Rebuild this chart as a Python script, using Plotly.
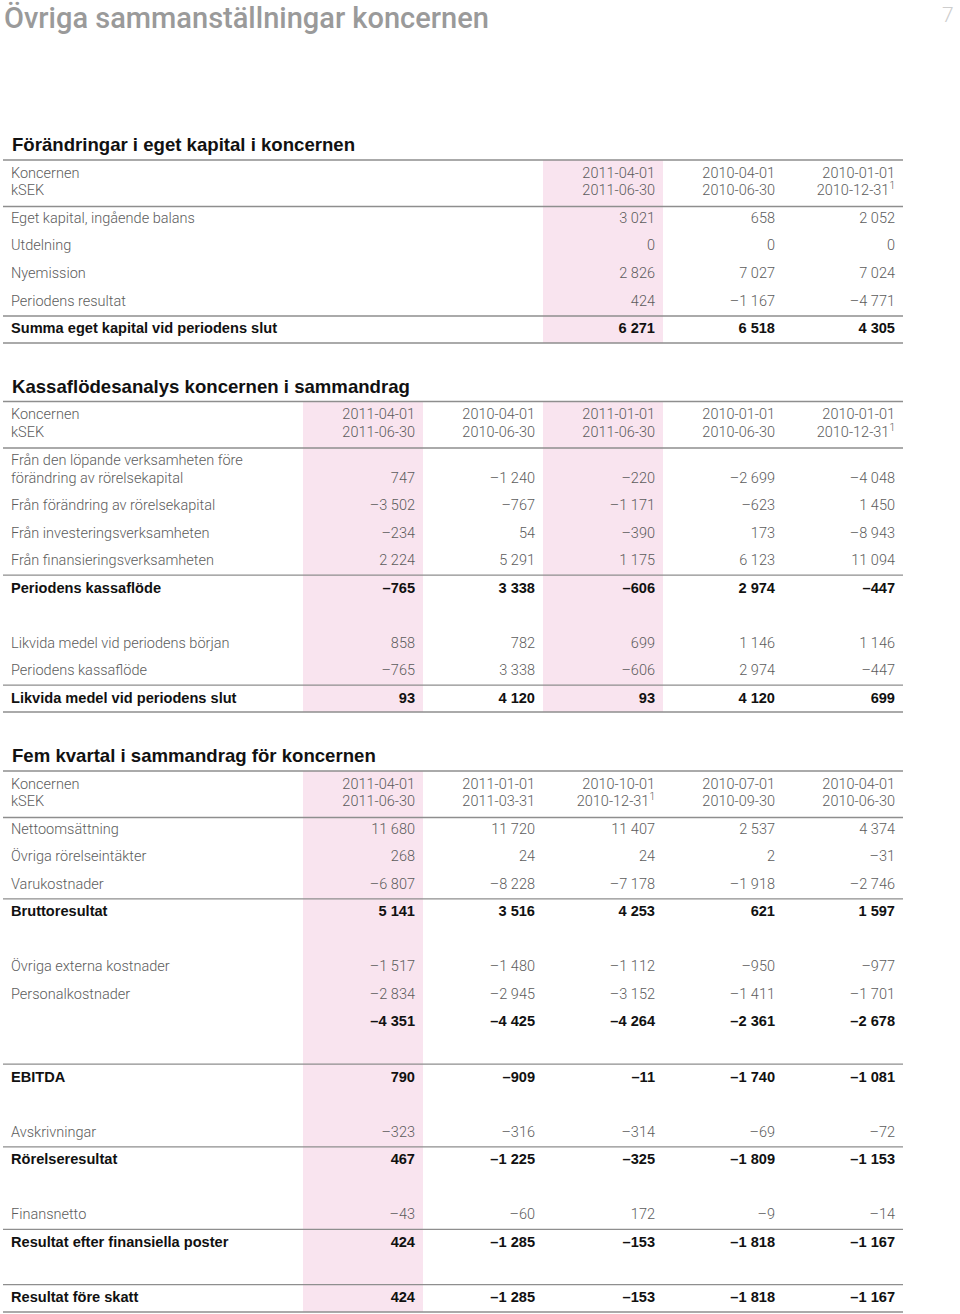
import plotly.graph_objects as go

# ---------------------------------------------------------------- data
PAGE_TITLE = "Övriga sammanställningar koncernen"
PAGE_NO = "7"
HDR_LABEL = ["Koncernen", "kSEK"]

# Förändringar i eget kapital
EK_TITLE = "Förändringar i eget kapital i koncernen"
EK_PERIODS = [("2011-04-01", "2011-06-30"),
              ("2010-04-01", "2010-06-30"),
              ("2010-01-01", "2010-12-31<sup>1</sup>")]
EK_LABELS = ["Eget kapital, ingående balans", "Utdelning", "Nyemission",
             "Periodens resultat", "Summa eget kapital vid periodens slut"]
EK_VALUES = [[3021, 658, 2052],
             [0, 0, 0],
             [2826, 7027, 7024],
             [424, -1167, -4771],
             [6271, 6518, 4305]]
EK_BOLD = [False, False, False, False, True]

# Kassaflödesanalys
KF_TITLE = "Kassaflödesanalys koncernen i sammandrag"
KF_PERIODS = [("2011-04-01", "2011-06-30"),
              ("2010-04-01", "2010-06-30"),
              ("2011-01-01", "2011-06-30"),
              ("2010-01-01", "2010-06-30"),
              ("2010-01-01", "2010-12-31<sup>1</sup>")]
KF_LABELS = ["Från den löpande verksamheten före\nförändring av rörelsekapital",
             "Från förändring av rörelsekapital",
             "Från investeringsverksamheten",
             "Från finansieringsverksamheten",
             "Periodens kassaflöde",
             None,
             "Likvida medel vid periodens början",
             "Periodens kassaflöde",
             "Likvida medel vid periodens slut"]
KF_VALUES = [[747, -1240, -220, -2699, -4048],
             [-3502, -767, -1171, -623, 1450],
             [-234, 54, -390, 173, -8943],
             [2224, 5291, 1175, 6123, 11094],
             [-765, 3338, -606, 2974, -447],
             None,
             [858, 782, 699, 1146, 1146],
             [-765, 3338, -606, 2974, -447],
             [93, 4120, 93, 4120, 699]]
KF_BOLD = [False, False, False, False, True, False, False, False, True]

# Fem kvartal
FK_TITLE = "Fem kvartal i sammandrag för koncernen"
FK_PERIODS = [("2011-04-01", "2011-06-30"),
              ("2011-01-01", "2011-03-31"),
              ("2010-10-01", "2010-12-31<sup>1</sup>"),
              ("2010-07-01", "2010-09-30"),
              ("2010-04-01", "2010-06-30")]
FK_LABELS = ["Nettoomsättning", "Övriga rörelseintäkter", "Varukostnader",
             "Bruttoresultat", None,
             "Övriga externa kostnader", "Personalkostnader", None, None,
             "EBITDA", None,
             "Avskrivningar", "Rörelseresultat", None,
             "Finansnetto", "Resultat efter finansiella poster", None,
             "Resultat före skatt"]
FK_VALUES = [[11680, 11720, 11407, 2537, 4374],
             [268, 24, 24, 2, -31],
             [-6807, -8228, -7178, -1918, -2746],
             [5141, 3516, 4253, 621, 1597],
             None,
             [-1517, -1480, -1112, -950, -977],
             [-2834, -2945, -3152, -1411, -1701],
             [-4351, -4425, -4264, -2361, -2678],
             None,
             [790, -909, -11, -1740, -1081],
             None,
             [-323, -316, -314, -69, -72],
             [467, -1225, -325, -1809, -1153],
             None,
             [-43, -60, 172, -9, -14],
             [424, -1285, -153, -1818, -1167],
             None,
             [424, -1285, -153, -1818, -1167]]
FK_BOLD = [False, False, False, True, False, False, False, True, False,
           True, False, False, True, False, False, True, False, True]

# ---------------------------------------------------------------- style
PINK = "#f9e4ef"
RULE = "#8e8e8e"
LIGHT_TXT = "#5c5c5c"
BOLD_TXT = "#111111"
LIGHT_FONT = "Roboto"
BOLD_FONT = "Liberation Sans, Arial, sans-serif"
FS_LIGHT = 14.5
FS_BOLD = 14.6
X_LABEL = 11
X_L, X_R = 3, 903


def fmt(v):
    s = f"{abs(v):,}".replace(",", " ")
    return ("–" + s) if v < 0 else s


texts = {"light_l": ([], [], []), "light_r": ([], [], []),
         "bold_l": ([], [], []), "bold_r": ([], [], [])}
shapes = []
titles = []


def put(key, x, y, t):
    xs, ys, ts = texts[key]
    xs.append(x); ys.append(y); ts.append(t)


def rule(y):
    shapes.append(dict(type="line", xref="x", yref="y", x0=X_L, x1=X_R,
                       y0=y, y1=y, line=dict(color=RULE, width=1.3)))


def pink(xr, y0, y1):
    shapes.append(dict(type="rect", xref="x", yref="y", x0=xr - 112, x1=xr + 8,
                       y0=y0, y1=y1, fillcolor=PINK, line=dict(width=0),
                       layer="below"))


def table(title, periods, labels, values, bold, col_x, pink_cols,
          y_rule, row0, step, rules_above, end_y):
    titles.append((title, y_rule - 15.5))
    for c in pink_cols:
        pink(col_x[c], y_rule, end_y)
    rule(y_rule)
    h1, h2 = y_rule + 14, y_rule + 31.5
    put("light_l", X_LABEL, h1, HDR_LABEL[0])
    put("light_l", X_LABEL, h2, HDR_LABEL[1])
    for (a, b), x in zip(periods, col_x):
        put("light_r", x, h1, a)
        put("light_r", x, h2, b)
    rule(y_rule + 46.5)
    for i, (lab, vals, bd) in enumerate(zip(labels, values, bold)):
        y = row0 + i * step
        if i in rules_above:
            rule(y - 13.8)
        if lab:
            parts = lab.split("\n")
            for k, p in enumerate(reversed(parts)):
                put("bold_l" if bd else "light_l", X_LABEL, y - 18 * k, p)
        if vals:
            for v, x in zip(vals, col_x):
                put("bold_r" if bd else "light_r", x, y, fmt(v))
    rule(end_y)


COL3 = [655, 775, 895]
COL5 = [415, 535, 655, 775, 895]

table(EK_TITLE, EK_PERIODS, EK_LABELS, EK_VALUES, EK_BOLD, COL3, [0],
      160, 219, 27.7, {4}, 343)
table(KF_TITLE, KF_PERIODS, KF_LABELS, KF_VALUES, KF_BOLD, COL5, [0, 2],
      401.5, 479, 27.5, {4, 8}, 712)
table(FK_TITLE, FK_PERIODS, FK_LABELS, FK_VALUES, FK_BOLD, COL5, [0],
      771, 830, 27.55, {3, 9, 12, 15, 17}, 1312)

# ---------------------------------------------------------------- figure
fig = go.Figure()
styles = {
    "light_l": ("middle right", LIGHT_FONT, LIGHT_TXT, 300, FS_LIGHT),
    "light_r": ("middle left", LIGHT_FONT, LIGHT_TXT, 300, FS_LIGHT),
    "bold_l": ("middle right", BOLD_FONT, BOLD_TXT, 700, FS_BOLD),
    "bold_r": ("middle left", BOLD_FONT, BOLD_TXT, 700, FS_BOLD),
}
for key, (pos, fam, col, w, fs) in styles.items():
    xs, ys, ts = texts[key]
    fig.add_trace(go.Scatter(
        x=xs, y=ys, text=ts, mode="text", textposition=pos,
        textfont=dict(family=fam, size=fs, color=col, weight=w),
        hoverinfo="skip", showlegend=False, cliponaxis=False))

for t, y in titles:
    fig.add_annotation(x=X_LABEL - 1, y=y, text=t, showarrow=False,
                       xanchor="left", yanchor="middle", xref="x", yref="y",
                       font=dict(family=BOLD_FONT, size=18.6, color=BOLD_TXT,
                                 weight=700))

fig.add_annotation(x=2, y=18, text=PAGE_TITLE, showarrow=False,
                   xanchor="left", yanchor="middle", xref="x", yref="y",
                   font=dict(family="Roboto", size=29, color="#9a9a9a",
                             weight=500))
fig.add_annotation(x=956, y=15, text=PAGE_NO, showarrow=False,
                   xanchor="right", yanchor="middle", xref="x", yref="y",
                   font=dict(family="Roboto", size=21, color="#cdcdcd",
                             weight=300))

fig.update_layout(
    width=960, height=1314,
    margin=dict(l=0, r=0, t=0, b=0),
    paper_bgcolor="white", plot_bgcolor="white",
    shapes=shapes,
    xaxis=dict(range=[0, 960], visible=False, fixedrange=True),
    yaxis=dict(range=[1314, 0], visible=False, fixedrange=True),
)

fig.write_html("out.html",
               config={"displayModeBar": False, "staticPlot": True},
               post_script="document.body.style.margin='0';"
                           "document.body.style.overflow='hidden';")
